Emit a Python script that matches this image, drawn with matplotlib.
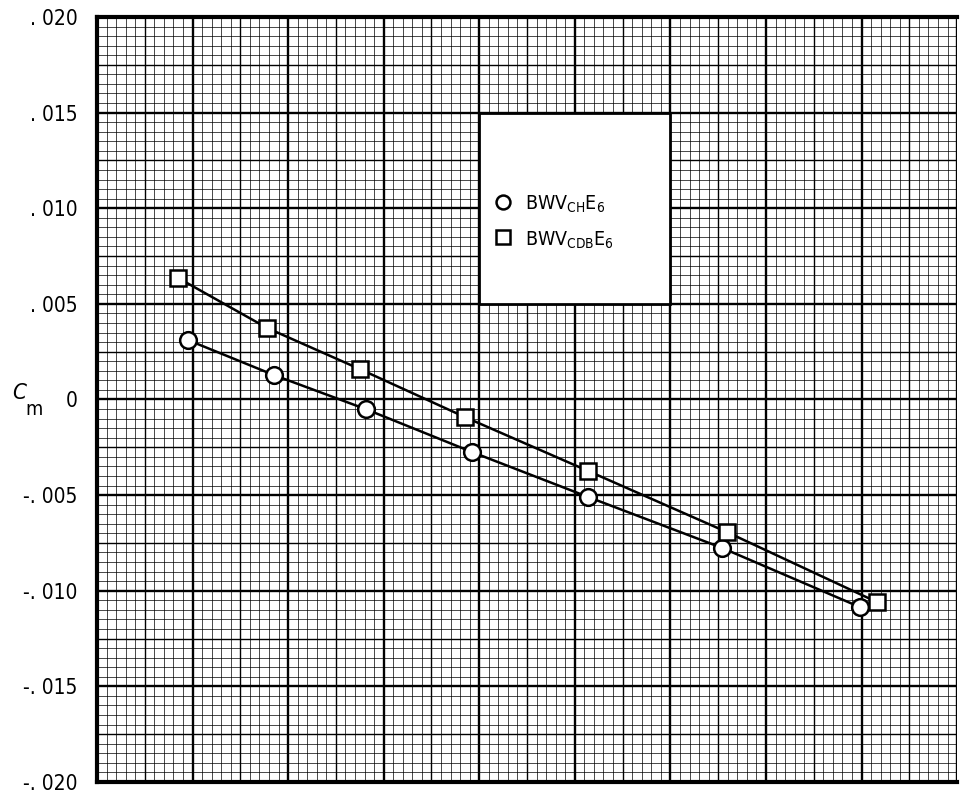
import matplotlib
matplotlib.use("Agg")
import matplotlib.pyplot as plt
from matplotlib import font_manager
from matplotlib.patches import Rectangle
import numpy as np

# Valeurs (abscisse sans graduation, unités de quadrillage)
x_ch = [0.95, 1.85, 2.81, 3.92, 5.14, 6.54, 7.98]
cm_ch = [0.00311, 0.00128, -0.00050, -0.00274, -0.00510, -0.00776, -0.01085]

x_cdb = [0.85, 1.78, 2.75, 3.85, 5.14, 6.59, 8.16]
cm_cdb = [0.00635, 0.00374, 0.00159, -0.00092, -0.00374, -0.00693, -0.01059]

y_ticks = [0.020, 0.015, 0.010, 0.005, 0.0, -0.005, -0.010, -0.015, -0.020]
y_labels = [". 020", ". 015", ". 010", ". 005", "0", "-. 005", "-. 010", "-. 015", "-. 020"]

labels = [r"BWV$_{\mathrm{CH}}$E$_{\mathrm{6}}$", r"BWV$_{\mathrm{CDB}}$E$_{\mathrm{6}}$"]

# police étroite si disponible
noms = {f.name for f in font_manager.fontManager.ttflist}
police = "Liberation Sans Narrow" if "Liberation Sans Narrow" in noms else "DejaVu Sans"
plt.rcParams["font.family"] = [police, "DejaVu Sans"]
plt.rcParams["font.stretch"] = "condensed"
plt.rcParams["mathtext.fontset"] = "custom"
plt.rcParams["mathtext.rm"] = police
plt.rcParams["mathtext.it"] = police + ":italic"

fig = plt.figure(figsize=(9.6, 7.93), dpi=100)
ax = fig.add_axes([0.101, 0.0139, 0.896, 0.9647])
ax.set_xlim(0, 9)
ax.set_ylim(-0.020, 0.020)

# quadrillage type papier millimétré
for xv in np.arange(0, 9.01, 0.1):
    k = int(round(xv * 10))
    lw = 1.7 if k % 10 == 0 else (1.0 if k % 5 == 0 else 0.5)
    ax.axvline(xv, color="black", lw=lw, zorder=1)
for yv in np.arange(-0.020, 0.02001, 0.0005):
    k = int(round(yv / 0.0005))
    lw = 1.7 if k % 10 == 0 else (1.0 if k % 5 == 0 else 0.5)
    ax.axhline(yv, color="black", lw=lw, zorder=1)

# courbes
ax.plot(x_ch, cm_ch, color="black", lw=1.8, marker="o", ms=12, mfc="white",
        mec="black", mew=1.8, zorder=4)
ax.plot(x_cdb, cm_cdb, color="black", lw=1.8, marker="s", ms=11, mfc="white",
        mec="black", mew=1.8, zorder=4)

# cartouche de légende
ax.add_patch(Rectangle((4, 0.005), 2, 0.010, facecolor="white", edgecolor="black",
                       lw=2, zorder=3))
ax.plot([4.25], [0.0103], marker="o", ms=10, mfc="white", mec="black", mew=1.8, zorder=5)
ax.plot([4.25], [0.0085], marker="s", ms=10, mfc="white", mec="black", mew=1.8, zorder=5)
ax.text(4.48, 0.0102, labels[0], fontsize=14, va="center", ha="left", zorder=5)
ax.text(4.48, 0.0083, labels[1], fontsize=14, va="center", ha="left", zorder=5)

ax.set_yticks(y_ticks)
ax.set_yticklabels(y_labels, fontsize=15)
ax.set_xticks([])
ax.tick_params(axis="y", length=0, pad=14)

for s in ["left", "top", "bottom"]:
    ax.spines[s].set_linewidth(3)
ax.spines["right"].set_visible(False)

fig.text(0.013, 0.505, "C", fontsize=16, style="italic", va="center")
fig.text(0.026, 0.484, "m", fontsize=14, va="center")

fig.savefig("out.png", dpi=100)
